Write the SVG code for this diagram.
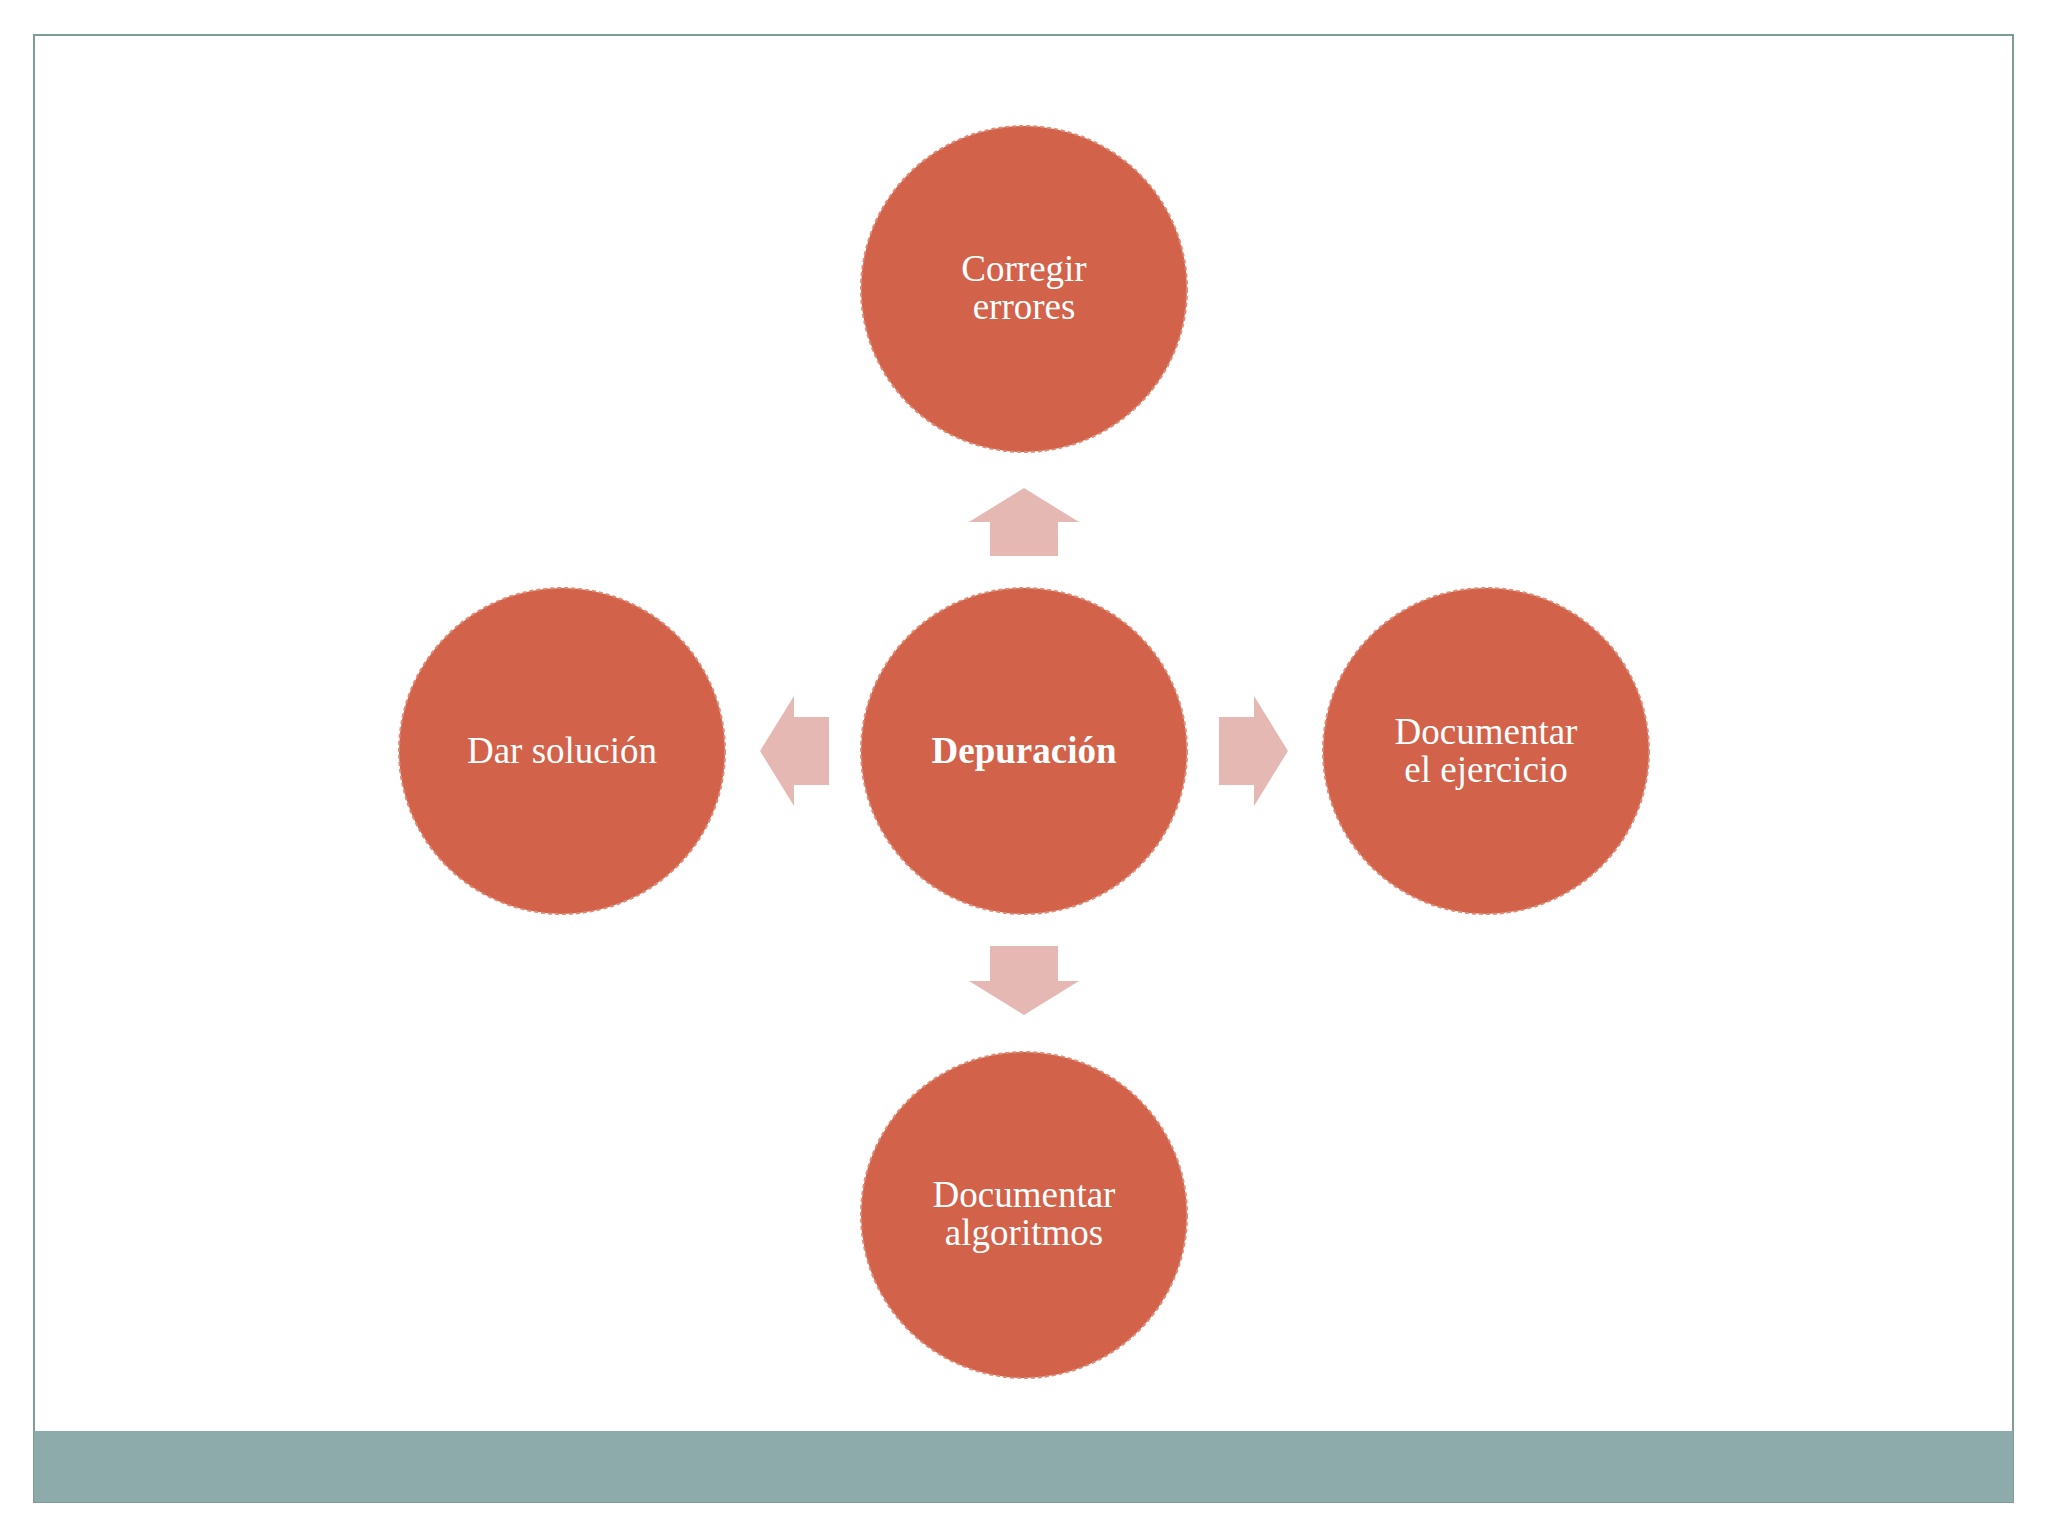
<svg xmlns="http://www.w3.org/2000/svg" width="2048" height="1536" viewBox="0 0 2048 1536">
<style>
.c{fill:#d2624a;stroke:#e08a76;stroke-width:2;stroke-dasharray:4 3}
.t{font-family:"Liberation Serif",serif;font-size:37px;fill:#fff;text-anchor:middle}
.a{fill:#e6b8b4}
</style>
<rect x="0" y="0" width="2048" height="1536" fill="#fff"/>
<rect x="34" y="35" width="1979" height="1467" fill="#fff" stroke="#7e9c98" stroke-width="2"/>
<rect x="34" y="1431" width="1979" height="71" fill="#8eabab"/>
<g id="connectors">
<polygon class="a" points="1024,488 1079,522 1058,522 1058,556 990,556 990,522 969,522"/>
<polygon class="a" points="1024,1015 1079,981 1058,981 1058,946 990,946 990,981 969,981"/>
<polygon class="a" points="760,751 794,696 794,717 829,717 829,785 794,785 794,806"/>
<polygon class="a" points="1288,751 1254,696 1254,717 1219,717 1219,785 1254,785 1254,806"/>
</g>
<g id="top"><circle class="c" cx="1024" cy="289" r="163"/><text class="t" x="1024" y="281">Corregir</text><text class="t" x="1024" y="319">errores</text></g>
<g id="center"><circle class="c" cx="1024" cy="751" r="163"/><text class="t" x="1024" y="763" font-weight="bold">Depuración</text></g>
<g id="left"><circle class="c" cx="562" cy="751" r="163"/><text class="t" x="562" y="763">Dar solución</text></g>
<g id="right"><circle class="c" cx="1486" cy="751" r="163"/><text class="t" x="1486" y="744">Documentar</text><text class="t" x="1486" y="782">el ejercicio</text></g>
<g id="bottom"><circle class="c" cx="1024" cy="1215" r="163"/><text class="t" x="1024" y="1207">Documentar</text><text class="t" x="1024" y="1245">algoritmos</text></g>
</svg>
